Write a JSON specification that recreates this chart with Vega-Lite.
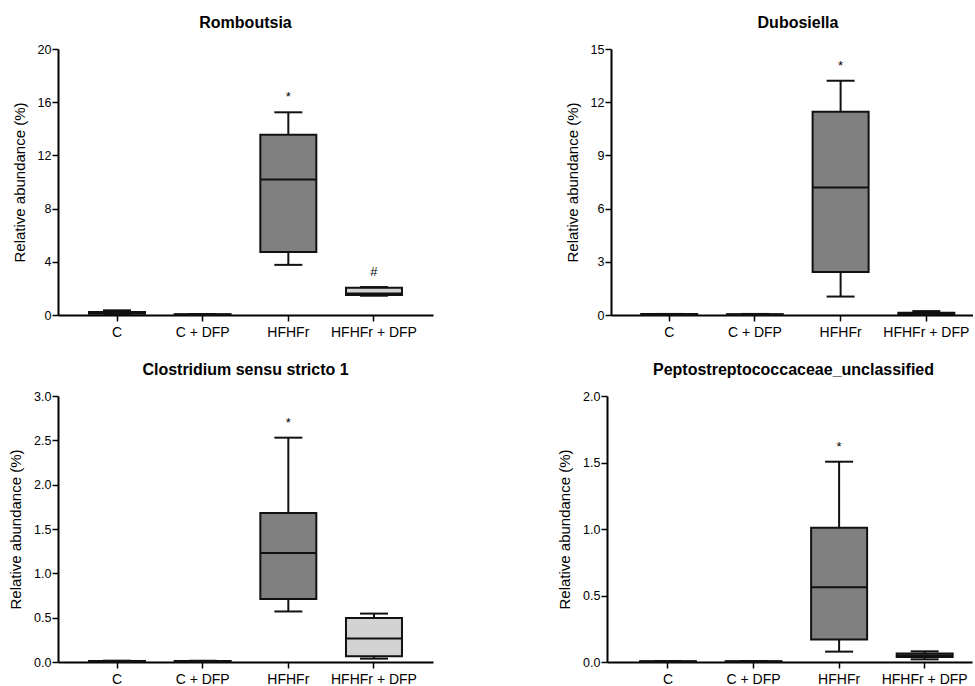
{
  "$schema": "https://vega.github.io/schema/vega-lite/v6.json",
  "padding": {"left": 8, "top": 15, "right": 0, "bottom": 0},
  "background": "white",
  "datasets": {
    "boxes": [
      {"panel": "Romboutsia", "group": "C", "lower": 0.05, "q1": 0.1, "median": 0.15, "q3": 0.22, "upper": 0.35, "sig": ""},
      {"panel": "Romboutsia", "group": "C + DFP", "lower": 0.02, "q1": 0.03, "median": 0.04, "q3": 0.05, "upper": 0.07, "sig": ""},
      {"panel": "Romboutsia", "group": "HFHFr", "lower": 3.77, "q1": 4.74, "median": 10.19, "q3": 13.55, "upper": 15.24, "sig": "*"},
      {"panel": "Romboutsia", "group": "HFHFr + DFP", "lower": 1.45, "q1": 1.5, "median": 1.62, "q3": 2.05, "upper": 2.1, "sig": "#"},
      {"panel": "Dubosiella", "group": "C", "lower": 0.01, "q1": 0.02, "median": 0.03, "q3": 0.05, "upper": 0.06, "sig": ""},
      {"panel": "Dubosiella", "group": "C + DFP", "lower": 0.01, "q1": 0.02, "median": 0.03, "q3": 0.04, "upper": 0.06, "sig": ""},
      {"panel": "Dubosiella", "group": "HFHFr", "lower": 1.04, "q1": 2.43, "median": 7.19, "q3": 11.46, "upper": 13.21, "sig": "*"},
      {"panel": "Dubosiella", "group": "HFHFr + DFP", "lower": 0.03, "q1": 0.05, "median": 0.1, "q3": 0.13, "upper": 0.22, "sig": ""},
      {"panel": "Clostridium sensu stricto 1", "group": "C", "lower": 0.003, "q1": 0.005, "median": 0.008, "q3": 0.01, "upper": 0.015, "sig": ""},
      {"panel": "Clostridium sensu stricto 1", "group": "C + DFP", "lower": 0.003, "q1": 0.005, "median": 0.007, "q3": 0.01, "upper": 0.014, "sig": ""},
      {"panel": "Clostridium sensu stricto 1", "group": "HFHFr", "lower": 0.57, "q1": 0.71, "median": 1.23, "q3": 1.68, "upper": 2.53, "sig": "*"},
      {"panel": "Clostridium sensu stricto 1", "group": "HFHFr + DFP", "lower": 0.038, "q1": 0.064, "median": 0.264, "q3": 0.497, "upper": 0.546, "sig": ""},
      {"panel": "Peptostreptococcaceae_unclassified", "group": "C", "lower": 0.002, "q1": 0.003, "median": 0.004, "q3": 0.005, "upper": 0.007, "sig": ""},
      {"panel": "Peptostreptococcaceae_unclassified", "group": "C + DFP", "lower": 0.002, "q1": 0.003, "median": 0.004, "q3": 0.005, "upper": 0.007, "sig": ""},
      {"panel": "Peptostreptococcaceae_unclassified", "group": "HFHFr", "lower": 0.078, "q1": 0.169, "median": 0.5625, "q3": 1.009, "upper": 1.506, "sig": "*"},
      {"panel": "Peptostreptococcaceae_unclassified", "group": "HFHFr + DFP", "lower": 0.02, "q1": 0.038, "median": 0.05, "q3": 0.063, "upper": 0.08, "sig": ""}
    ]
  },
  "vconcat": [
    {
      "spacing": 132,
      "hconcat": [
        {
          "width": 375, "height": 266,
          "title": {"text": "Romboutsia"},
          "data": {"name": "boxes"},
          "transform": [{"filter": "datum.panel === 'Romboutsia'"}],
          "encoding": {
            "x": {"field": "group", "type": "nominal", "sort": ["C", "C + DFP", "HFHFr", "HFHFr + DFP"],
                  "scale": {"domain": ["C", "C + DFP", "HFHFr", "HFHFr + DFP"], "paddingInner": 0, "paddingOuter": 0.189, "align": 0.5},
                  "axis": {"title": null, "labelAngle": 0, "tickSize": 6, "labelFontSize": 14, "labelPadding": 4}}
          },
          "layer": [
            {"mark": {"type": "rule", "color": "#111111", "strokeWidth": 2},
             "encoding": {
               "y": {"field": "lower", "type": "quantitative", "title": "Relative abundance (%)", "scale": {"domain": [0, 20], "nice": false},
                     "axis": {"values": [0, 2, 4, 6, 8, 10, 12, 14, 16, 18, 20],
                              "labelExpr": "datum.value % 4 === 0 ? datum.label : ''",
                              "tickSize": {"condition": {"test": "datum.value % 4 === 0", "value": 6}, "value": 3}}},
               "y2": {"field": "upper"}}},
            {"mark": {"type": "bar", "width": 56, "stroke": "#111111", "strokeWidth": 2},
             "encoding": {
               "y": {"field": "q1", "type": "quantitative", "title": "Relative abundance (%)"},
               "y2": {"field": "q3"},
               "fill": {"field": "group", "type": "nominal", "legend": null,
                        "scale": {"domain": ["C", "C + DFP", "HFHFr", "HFHFr + DFP"], "range": ["#ffffff", "#ffffff", "#808080", "#d3d3d3"]}}}},
            {"mark": {"type": "tick", "color": "#111111", "opacity": 1, "size": 56, "thickness": 2, "orient": "horizontal"},
             "encoding": {"y": {"field": "median", "type": "quantitative", "title": "Relative abundance (%)"}}},
            {"mark": {"type": "tick", "color": "#111111", "opacity": 1, "size": 28, "thickness": 2, "orient": "horizontal"},
             "encoding": {"y": {"field": "lower", "type": "quantitative", "title": "Relative abundance (%)"}}},
            {"mark": {"type": "tick", "color": "#111111", "opacity": 1, "size": 28, "thickness": 2, "orient": "horizontal"},
             "encoding": {"y": {"field": "upper", "type": "quantitative", "title": "Relative abundance (%)"}}},
            {"mark": {"type": "text", "baseline": "alphabetic", "dy": -11, "fontSize": 13, "color": "black"},
             "encoding": {"y": {"field": "upper", "type": "quantitative", "title": "Relative abundance (%)"}, "text": {"field": "sig"}}}
          ]
        },
        {
          "width": 362, "height": 266,
          "title": {"text": "Dubosiella", "dx": 6},
          "data": {"name": "boxes"},
          "transform": [{"filter": "datum.panel === 'Dubosiella'"}],
          "encoding": {
            "x": {"field": "group", "type": "nominal", "sort": ["C", "C + DFP", "HFHFr", "HFHFr + DFP"],
                  "scale": {"domain": ["C", "C + DFP", "HFHFr", "HFHFr + DFP"], "paddingInner": 0, "paddingOuter": 0.112, "align": 0.8},
                  "axis": {"title": null, "labelAngle": 0, "tickSize": 6, "labelFontSize": 14, "labelPadding": 4}}
          },
          "layer": [
            {"mark": {"type": "rule", "color": "#111111", "strokeWidth": 2},
             "encoding": {
               "y": {"field": "lower", "type": "quantitative", "title": "Relative abundance (%)", "scale": {"domain": [0, 15], "nice": false},
                     "axis": {"values": [0, 1.5, 3, 4.5, 6, 7.5, 9, 10.5, 12, 13.5, 15],
                              "labelExpr": "datum.value % 3 === 0 ? datum.label : ''",
                              "tickSize": {"condition": {"test": "datum.value % 3 === 0", "value": 6}, "value": 3}}},
               "y2": {"field": "upper"}}},
            {"mark": {"type": "bar", "width": 56, "stroke": "#111111", "strokeWidth": 2},
             "encoding": {
               "y": {"field": "q1", "type": "quantitative", "title": "Relative abundance (%)"},
               "y2": {"field": "q3"},
               "fill": {"field": "group", "type": "nominal", "legend": null,
                        "scale": {"domain": ["C", "C + DFP", "HFHFr", "HFHFr + DFP"], "range": ["#ffffff", "#ffffff", "#808080", "#d3d3d3"]}}}},
            {"mark": {"type": "tick", "color": "#111111", "opacity": 1, "size": 56, "thickness": 2, "orient": "horizontal"},
             "encoding": {"y": {"field": "median", "type": "quantitative", "title": "Relative abundance (%)"}}},
            {"mark": {"type": "tick", "color": "#111111", "opacity": 1, "size": 28, "thickness": 2, "orient": "horizontal"},
             "encoding": {"y": {"field": "lower", "type": "quantitative", "title": "Relative abundance (%)"}}},
            {"mark": {"type": "tick", "color": "#111111", "opacity": 1, "size": 28, "thickness": 2, "orient": "horizontal"},
             "encoding": {"y": {"field": "upper", "type": "quantitative", "title": "Relative abundance (%)"}}},
            {"mark": {"type": "text", "baseline": "alphabetic", "dy": -11, "fontSize": 13, "color": "black"},
             "encoding": {"y": {"field": "upper", "type": "quantitative", "title": "Relative abundance (%)"}, "text": {"field": "sig"}}}
          ]
        }
      ]
    },
    {
      "spacing": 124,
      "hconcat": [
        {
          "width": 375, "height": 266,
          "title": {"text": "Clostridium sensu stricto 1"},
          "data": {"name": "boxes"},
          "transform": [{"filter": "datum.panel === 'Clostridium sensu stricto 1'"}],
          "encoding": {
            "x": {"field": "group", "type": "nominal", "sort": ["C", "C + DFP", "HFHFr", "HFHFr + DFP"],
                  "scale": {"domain": ["C", "C + DFP", "HFHFr", "HFHFr + DFP"], "paddingInner": 0, "paddingOuter": 0.189, "align": 0.5},
                  "axis": {"title": null, "labelAngle": 0, "tickSize": 6, "labelFontSize": 14, "labelPadding": 4}}
          },
          "layer": [
            {"mark": {"type": "rule", "color": "#111111", "strokeWidth": 2},
             "encoding": {
               "y": {"field": "lower", "type": "quantitative", "title": "Relative abundance (%)", "scale": {"domain": [0, 3], "nice": false},
                     "axis": {"values": [0, 0.25, 0.5, 0.75, 1, 1.25, 1.5, 1.75, 2, 2.25, 2.5, 2.75, 3],
                              "format": ".1f",
                              "labelExpr": "abs(datum.value * 2 - round(datum.value * 2)) < 0.001 ? datum.label : ''",
                              "tickSize": {"condition": {"test": "abs(datum.value * 2 - round(datum.value * 2)) < 0.001", "value": 6}, "value": 3}}},
               "y2": {"field": "upper"}}},
            {"mark": {"type": "bar", "width": 56, "stroke": "#111111", "strokeWidth": 2},
             "encoding": {
               "y": {"field": "q1", "type": "quantitative", "title": "Relative abundance (%)"},
               "y2": {"field": "q3"},
               "fill": {"field": "group", "type": "nominal", "legend": null,
                        "scale": {"domain": ["C", "C + DFP", "HFHFr", "HFHFr + DFP"], "range": ["#ffffff", "#ffffff", "#808080", "#d3d3d3"]}}}},
            {"mark": {"type": "tick", "color": "#111111", "opacity": 1, "size": 56, "thickness": 2, "orient": "horizontal"},
             "encoding": {"y": {"field": "median", "type": "quantitative", "title": "Relative abundance (%)"}}},
            {"mark": {"type": "tick", "color": "#111111", "opacity": 1, "size": 28, "thickness": 2, "orient": "horizontal"},
             "encoding": {"y": {"field": "lower", "type": "quantitative", "title": "Relative abundance (%)"}}},
            {"mark": {"type": "tick", "color": "#111111", "opacity": 1, "size": 28, "thickness": 2, "orient": "horizontal"},
             "encoding": {"y": {"field": "upper", "type": "quantitative", "title": "Relative abundance (%)"}}},
            {"mark": {"type": "text", "baseline": "alphabetic", "dy": -11, "fontSize": 13, "color": "black"},
             "encoding": {"y": {"field": "upper", "type": "quantitative", "title": "Relative abundance (%)"}, "text": {"field": "sig"}}}
          ]
        },
        {
          "width": 365, "height": 266,
          "title": {"text": "Peptostreptococcaceae_unclassified", "dx": 4},
          "data": {"name": "boxes"},
          "transform": [{"filter": "datum.panel === 'Peptostreptococcaceae_unclassified'"}],
          "encoding": {
            "x": {"field": "group", "type": "nominal", "sort": ["C", "C + DFP", "HFHFr", "HFHFr + DFP"],
                  "scale": {"domain": ["C", "C + DFP", "HFHFr", "HFHFr + DFP"], "paddingInner": 0, "paddingOuter": 0.133, "align": 0.8},
                  "axis": {"title": null, "labelAngle": 0, "tickSize": 6, "labelFontSize": 14, "labelPadding": 4}}
          },
          "layer": [
            {"mark": {"type": "rule", "color": "#111111", "strokeWidth": 2},
             "encoding": {
               "y": {"field": "lower", "type": "quantitative", "title": "Relative abundance (%)", "scale": {"domain": [0, 2], "nice": false},
                     "axis": {"values": [0, 0.25, 0.5, 0.75, 1, 1.25, 1.5, 1.75, 2],
                              "format": ".1f",
                              "labelExpr": "abs(datum.value * 2 - round(datum.value * 2)) < 0.001 ? datum.label : ''",
                              "tickSize": {"condition": {"test": "abs(datum.value * 2 - round(datum.value * 2)) < 0.001", "value": 6}, "value": 3}}},
               "y2": {"field": "upper"}}},
            {"mark": {"type": "bar", "width": 56, "stroke": "#111111", "strokeWidth": 2},
             "encoding": {
               "y": {"field": "q1", "type": "quantitative", "title": "Relative abundance (%)"},
               "y2": {"field": "q3"},
               "fill": {"field": "group", "type": "nominal", "legend": null,
                        "scale": {"domain": ["C", "C + DFP", "HFHFr", "HFHFr + DFP"], "range": ["#ffffff", "#ffffff", "#808080", "#d3d3d3"]}}}},
            {"mark": {"type": "tick", "color": "#111111", "opacity": 1, "size": 56, "thickness": 2, "orient": "horizontal"},
             "encoding": {"y": {"field": "median", "type": "quantitative", "title": "Relative abundance (%)"}}},
            {"mark": {"type": "tick", "color": "#111111", "opacity": 1, "size": 28, "thickness": 2, "orient": "horizontal"},
             "encoding": {"y": {"field": "lower", "type": "quantitative", "title": "Relative abundance (%)"}}},
            {"mark": {"type": "tick", "color": "#111111", "opacity": 1, "size": 28, "thickness": 2, "orient": "horizontal"},
             "encoding": {"y": {"field": "upper", "type": "quantitative", "title": "Relative abundance (%)"}}},
            {"mark": {"type": "text", "baseline": "alphabetic", "dy": -11, "fontSize": 13, "color": "black"},
             "encoding": {"y": {"field": "upper", "type": "quantitative", "title": "Relative abundance (%)"}, "text": {"field": "sig"}}}
          ]
        }
      ]
    }
  ],
  "spacing": 23,
  "config": {
    "font": "Liberation Sans",
    "view": {"stroke": null},
    "axis": {"domainColor": "black", "domainWidth": 2, "tickColor": "black", "tickWidth": 1.5,
             "labelColor": "black", "titleColor": "black", "grid": false,
             "labelFont": "Liberation Sans", "titleFont": "Liberation Sans", "titleFontWeight": "normal"},
    "axisY": {"titleFontSize": 15, "labelFontSize": 12.5, "labelPadding": 1, "titlePadding": 10, "labelOverlap": false, "labelFlush": false},
    "title": {"fontSize": 16, "font": "Liberation Sans", "fontWeight": "bold", "color": "black", "baseline": "alphabetic", "offset": 12}
  }
}
